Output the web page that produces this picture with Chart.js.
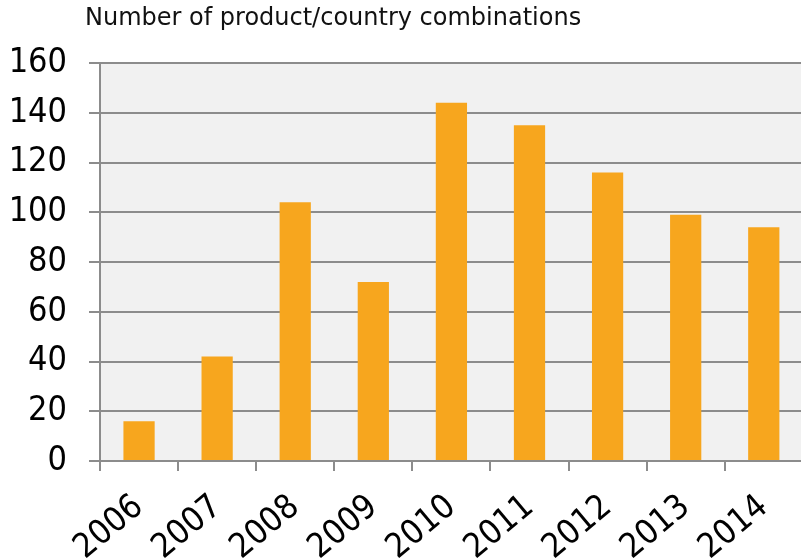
<!DOCTYPE html>
<html>
<head>
<meta charset="utf-8">
<script src="https://cdn.jsdelivr.net/npm/chart.js@4/dist/chart.umd.min.js"></script>
<style>
  html, body { margin: 0; padding: 0; background: #fff; overflow: hidden; }
  #wrap { position: relative; width: 801px; height: 560px; overflow: hidden; }
  #title {
    position: absolute; left: 85px; top: 3px;
    font-family: "DejaVu Sans", sans-serif; font-size: 24px; color: #111;
  }
  canvas { display: block; }
</style>
</head>
<body>
<div id="wrap">
  <div id="title">Number of product/country combinations</div>
  <!-- canvas a little wider than the page: the plot runs off the right edge like the original -->
  <canvas id="chart" width="806" height="560"></canvas>
</div>
<script>
const years = ['2006', '2007', '2008', '2009', '2010', '2011', '2012', '2013', '2014'];
const combos = [16, 42, 104, 72, 144, 135, 116, 99, 94];
const yTicks = [0, 20, 40, 60, 80, 100, 120, 140, 160];

const gridGray = '#8c8c8c';
const tickFont = { family: 'DejaVu Sans Condensed', size: 34 };

// grey fill behind the plot area
const plotBg = {
    id: 'plotBg',
    beforeDraw(chart) {
        const a = chart.chartArea;
        const ctx = chart.ctx;
        ctx.save();
        ctx.fillStyle = '#f1f1f1';
        ctx.fillRect(a.left, a.top, a.right - a.left, a.bottom - a.top);
        ctx.restore();
    }
};

new Chart(document.getElementById('chart').getContext('2d'), {
    type: 'bar',
    data: {
        labels: years,
        datasets: [{
            data: combos,
            backgroundColor: '#f7a61e',
            borderWidth: 0,
            barPercentage: 0.4,
            categoryPercentage: 1.0
        }]
    },
    options: {
        responsive: false,
        animation: false,
        layout: { padding: { top: 63, right: 0, left: 0, bottom: 0 } },
        scales: {
            x: {
                offset: true,
                grid: { display: true, drawOnChartArea: false, offset: true, color: gridGray, lineWidth: 2, tickLength: 10 },
                border: { display: false },
                ticks: {
                    color: '#000',
                    font: tickFont,
                    maxRotation: 40, minRotation: 40,
                    padding: 16
                },
                afterFit(scale) { scale.height = 99; }
            },
            y: {
                min: 0, max: 160,
                afterBuildTicks(scale) { scale.ticks = yTicks.map(v => ({ value: v })); },
                grid: { color: gridGray, lineWidth: 2, tickLength: 11 },
                border: { display: true, color: gridGray, width: 2 },
                ticks: {
                    color: '#000',
                    font: tickFont,
                    padding: 22
                },
                afterFit(scale) { scale.width = 100; }
            }
        },
        plugins: {
            legend: { display: false },
            tooltip: { enabled: false }
        }
    },
    plugins: [plotBg]
});
</script>
</body>
</html>
